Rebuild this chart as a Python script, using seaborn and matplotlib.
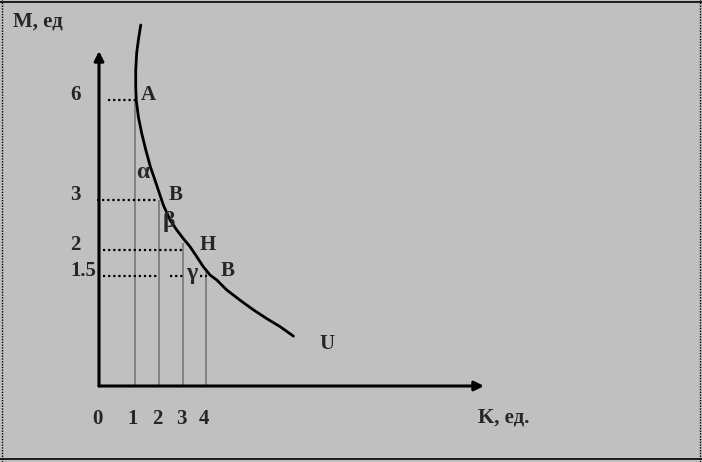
import numpy as np
import pandas as pd
import matplotlib
matplotlib.use("Agg")
import matplotlib.pyplot as plt
from matplotlib.lines import Line2D
import seaborn as sns

# Indifference curve U (K on x, M on y)
curve_K = [1.24, 1.14, 1.07, 1.03, 1.03, 1.05, 1.14, 1.28, 1.45, 1.64, 1.83, 2.04, 2.18,
           2.46, 2.74, 3.01, 3.3, 3.6, 3.88, 4.17, 4.46, 4.88, 5.45, 6.01, 6.58, 7.15, 7.72]
curve_M = [8.25, 7.8, 7.41, 6.9, 6.4, 6.0, 5.5, 5.0, 4.5, 4.0, 3.6, 3.15, 2.9,
           2.6, 2.4, 2.23, 2.07, 1.87, 1.68, 1.52, 1.445, 1.31, 1.17, 1.04, 0.92, 0.81, 0.68]

# marked bundles
point_K = [1, 2, 3, 4]
point_M = [6, 3, 2, 1.5]
point_names = ["A", "B", "H", "B"]
drop_top_M = [6, 3, 2.15, 1.65]

# dotted guides towards the M axis
guide_M = [6, 3, 2, 1.5, 1.5, 1.5]
guide_K_start = [0.25, -0.05, 0.11, 0.11, 2.45, 3.72]
guide_K_end = [1.0, 1.92, 2.96, 1.95, 3.1, 4.05]

x_ticks = [0, 1, 2, 3, 4]
y_ticks = [6, 3, 2, 1.5]
y_tick_labels = ["6", "3", "2", "1.5"]

BG = "#C0C0C0"
GREY_LINE = "#707070"

# the drawing is a schematic: axis spacing is not linear, so use a piecewise scale
K_ANCH = [-5, 0, 1, 2, 3, 4, 30]
X_PIX = [-81, 99, 135, 159, 183, 206, 817]
M_ANCH = [-5, 0, 1.5, 2, 3, 6, 20]
Y_PIX = [-290.7, 76, 186, 212, 262, 362, 828.7]


def fwd_x(v):
    return np.interp(v, K_ANCH, X_PIX)


def inv_x(v):
    return np.interp(v, X_PIX, K_ANCH)


def fwd_y(v):
    return np.interp(v, M_ANCH, Y_PIX)


def inv_y(v):
    return np.interp(v, Y_PIX, M_ANCH)


sns.set_theme(style="white")
plt.rcParams["font.family"] = ["Liberation Serif", "DejaVu Serif"]
plt.rcParams["font.weight"] = "bold"
plt.rcParams["font.size"] = 15

fig = plt.figure(figsize=(7.02, 4.62), dpi=100, facecolor=BG)
ax = fig.add_axes([0, 0, 1, 1])
ax.set_facecolor(BG)
ax.set_xscale("function", functions=(fwd_x, inv_x))
ax.set_yscale("function", functions=(fwd_y, inv_y))
ax.set_xlim(float(inv_x(0)), float(inv_x(702)))
ax.set_ylim(float(inv_y(0)), float(inv_y(462)))
ax.axis("off")

# drop lines from the bundles to the K axis
ax.vlines(point_K, 0, drop_top_M, color=GREY_LINE, linewidth=1.1, zorder=2)

# dotted guides
ax.hlines(guide_M, guide_K_start, guide_K_end, color="black",
          linewidth=1.6, linestyles=(0, (1, 1.3)), zorder=2)

# the curve
curve = pd.DataFrame({"K": curve_K, "M": curve_M})
sns.lineplot(data=curve, x="K", y="M", sort=False, estimator=None,
             color="black", linewidth=2.0, ax=ax, zorder=3)
ax.set_xlabel("")
ax.set_ylabel("")

# axes with arrowheads
arrow = dict(arrowstyle="-|>", color="black", lw=2.2, mutation_scale=14,
             shrinkA=0, shrinkB=0)
ax.annotate("", xy=(0, float(inv_y(462 - 51))), xytext=(0, 0), arrowprops=arrow)
ax.annotate("", xy=(float(inv_x(484)), 0), xytext=(0, 0), arrowprops=arrow)

# point names
for k, m, name in zip(point_K, point_M, point_names):
    dx = {1: 13, 2: 17, 3: 25, 4: 22}[k]
    ax.annotate(name, xy=(k, m), xytext=(dx, 5), textcoords="offset pixels",
                ha="center", va="center")

# angle marks
ax.text(1.33, 3.84, "α", ha="center", va="center", fontsize=17)
ax.text(2.42, 2.58, "β", ha="center", va="center", fontsize=17)
ax.annotate("γ", xy=(3.39, 1.5), xytext=(0, 2), textcoords="offset pixels",
            ha="center", va="center", fontsize=17)
ax.text(9.15, 0.57, "U", ha="center", va="center")

# tick labels
for k in x_ticks:
    ax.annotate(str(k), xy=(k, 1 - 419 / 462), xycoords=ax.get_xaxis_transform(),
                xytext=(-2, 0), textcoords="offset pixels", ha="center", va="center")
for m, lab in zip(y_ticks, y_tick_labels):
    ax.annotate(lab, xy=(70 / 702, m), xycoords=ax.get_yaxis_transform(),
                xytext=(0, 5), textcoords="offset pixels", ha="left", va="center")

# axis titles
fig.text(13 / 702, 1 - 22 / 462, "M, ед", ha="left", va="center")
fig.text(478 / 702, 1 - 418 / 462, "K, ед.", ha="left", va="center")

# frame: solid top/bottom, dotted sides
fig.add_artist(Line2D([0, 1], [1 - 1.5 / 462, 1 - 1.5 / 462], transform=fig.transFigure,
                      color="black", linewidth=1.2))
fig.add_artist(Line2D([0, 1], [3 / 462, 3 / 462], transform=fig.transFigure,
                      color="black", linewidth=1.2))
for xp in (1.5 / 702, 699.5 / 702):
    fig.add_artist(Line2D([xp, xp], [0, 1], transform=fig.transFigure,
                          color="black", linewidth=1.0, linestyle=(0, (1, 1))))

fig.savefig("out.png", dpi=100, facecolor=BG)
